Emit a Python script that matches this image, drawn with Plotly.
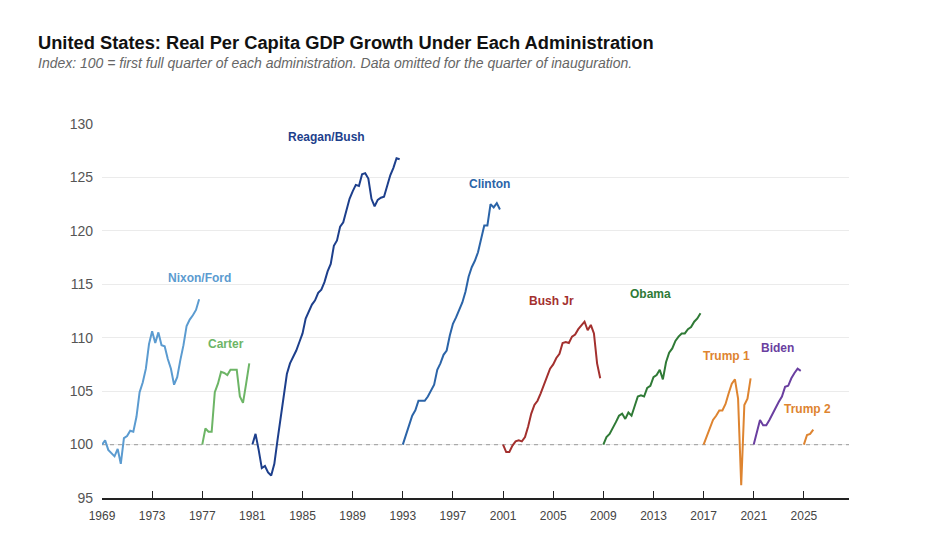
import plotly.graph_objects as go

# ---------------- data (index values, quarterly, 100 = first full quarter) ----------------
names = ["Nixon/Ford", "Carter", "Reagan/Bush", "Clinton", "Bush Jr", "Obama", "Trump 1", "Biden", "Trump 2"]
start_years = [1969, 1977, 1981, 1993, 2001, 2009, 2017, 2021, 2025]
colors = ["#5b9bd0", "#6db566", "#1d3f8c", "#2b64a8", "#a3302e", "#2f7a36", "#de8430", "#6a3fa0", "#de8430"]

nixon_ford = [100, 100.4, 99.5, 99.2, 98.9, 99.6, 98.2, 100.6, 100.8, 101.3, 101.2, 102.6, 104.9, 105.8,
              107.1, 109.4, 110.6, 109.5, 110.5, 109.3, 109.2, 108.0, 107.1, 105.6, 106.3, 107.9, 109.3,
              111.1, 111.7, 112.1, 112.6, 113.6]
carter = [100, 101.5, 101.2, 101.2, 104.9, 105.7, 106.8, 106.7, 106.5, 107.0, 107.0, 107.0, 104.5, 103.9,
          105.7, 107.6]
reagan_bush = [100, 101.0, 99.5, 97.8, 98.0, 97.4, 97.1, 98.2, 100.4, 102.4, 104.8, 106.6, 107.6, 108.2,
               108.8, 109.6, 110.4, 111.8, 112.4, 113.1, 113.5, 114.2, 114.5, 115.2, 116.2, 116.9, 118.6,
               119.1, 120.4, 120.8, 121.9, 123.0, 123.7, 124.3, 124.2, 125.3, 125.4, 124.9, 123.0, 122.3,
               122.9, 123.1, 123.2, 124.3, 125.2, 125.9, 126.8, 126.7]
clinton = [100, 100.9, 101.8, 102.7, 103.2, 104.1, 104.1, 104.1, 104.5, 105.0, 105.6, 107.0, 107.6, 108.4,
           108.8, 110.2, 111.3, 111.9, 112.6, 113.3, 114.3, 115.7, 116.6, 117.2, 118.0, 119.4, 120.5, 120.5,
           122.5, 122.2, 122.6, 122.0]
bush_jr = [100, 99.3, 99.3, 99.9, 100.3, 100.4, 100.3, 100.7, 101.7, 102.9, 103.7, 104.1, 104.8, 105.6,
           106.3, 107.1, 107.5, 108.1, 108.5, 109.5, 109.6, 109.5, 110.1, 110.3, 110.8, 111.1, 111.5, 110.7,
           111.2, 110.4, 107.6, 106.2]
obama = [100, 100.7, 101.0, 101.5, 102.1, 102.7, 102.9, 102.4, 103.0, 102.7, 103.7, 104.5, 104.6, 104.5,
         105.3, 105.5, 106.3, 106.5, 107.0, 106.1, 107.7, 108.6, 109.0, 109.7, 110.1, 110.4, 110.4, 110.8,
         111.0, 111.5, 111.8, 112.3]
trump_1 = [100, 100.8, 101.7, 102.3, 102.7, 103.2, 103.2, 103.8, 104.8, 105.7, 106.1, 104.3, 96.2, 103.7,
           104.3, 106.2]
biden = [100, 101.2, 102.3, 101.8, 101.8, 102.3, 102.9, 103.5, 104.0, 104.5, 105.4, 105.5, 106.2, 106.7,
         107.1, 106.9]
trump_2 = [100, 100.9, 101.0, 101.4]
series = [nixon_ford, carter, reagan_bush, clinton, bush_jr, obama, trump_1, biden, trump_2]

# label anchor positions (data coords)
label_x = [1976.75, 1978.9, 1986.95, 1999.9, 2004.85, 2012.8, 2018.8, 2022.9, 2025.3]
label_y = [115.6, 109.4, 128.75, 124.4, 113.4, 114.05, 108.3, 109.0, 103.3]

x_ticks = list(range(1969, 2026, 4))
y_ticks = list(range(95, 131, 5))
x_range = [1969, 2028.6]
y_range = [95, 130]
baseline = 100

title = "United States: Real Per Capita GDP Growth Under Each Administration"
subtitle = "Index: 100 = first full quarter of each administration. Data omitted for the quarter of inauguration."

FONT = "Liberation Sans, Arial, sans-serif"

fig = go.Figure()
# baseline 100 dashed line (drawn first, under the series)
fig.add_trace(go.Scatter(x=x_range, y=[baseline, baseline], mode="lines", showlegend=False,
                         hoverinfo="skip", line=dict(color="#aaaaaa", width=1.3, dash="4px,4px")))
for name, sy, vals, col in zip(names, start_years, series, colors):
    xs = [sy + i / 4 for i in range(len(vals))]
    fig.add_trace(go.Scatter(x=xs, y=vals, mode="lines", name=name,
                             line=dict(color=col, width=2), showlegend=False, hoverinfo="skip"))

for name, lx, ly, col in zip(names, label_x, label_y, colors):
    fig.add_annotation(x=lx, y=ly, text="<b>%s</b>" % name, showarrow=False,
                       font=dict(family=FONT, size=12, color=col), xanchor="center", yanchor="middle")

L, R, T, B = 102, 93, 124, 39
W, H = 942, 537
pw = W - L - R
ph = H - T - B
fig.add_annotation(xref="paper", yref="paper", x=(36 - L) / pw, y=(H - B - 42) / ph,
                   text="<b>%s</b>" % title, showarrow=False, xanchor="left", yanchor="middle",
                   font=dict(family=FONT, size=18.3, color="#111111"))
fig.add_annotation(xref="paper", yref="paper", x=(36 - L) / pw, y=(H - B - 63) / ph,
                   text="<i>%s</i>" % subtitle, showarrow=False, xanchor="left", yanchor="middle",
                   font=dict(family=FONT, size=14, color="#666666"))

fig.update_layout(
    width=W, height=H,
    margin=dict(l=L, r=R, t=T, b=B, pad=0),
    paper_bgcolor="white", plot_bgcolor="white",
    font=dict(family=FONT),
    xaxis=dict(range=x_range, tickvals=x_ticks, ticktext=[str(v) for v in x_ticks],
               showgrid=False, zeroline=False, showline=True, linecolor="#222222", linewidth=2,
               ticks="inside", ticklen=7, tickcolor="#222222", tickwidth=1, ticklabelstandoff=6,
               tickfont=dict(family=FONT, size=12, color="#444444")),
    yaxis=dict(range=y_range, tickvals=y_ticks, showgrid=True, gridcolor="#ebebeb", gridwidth=1,
               zeroline=False, showline=False, ticks="", ticklabelstandoff=8,
               tickfont=dict(family=FONT, size=14, color="#555555")),
)

fig.write_html("out.html")
